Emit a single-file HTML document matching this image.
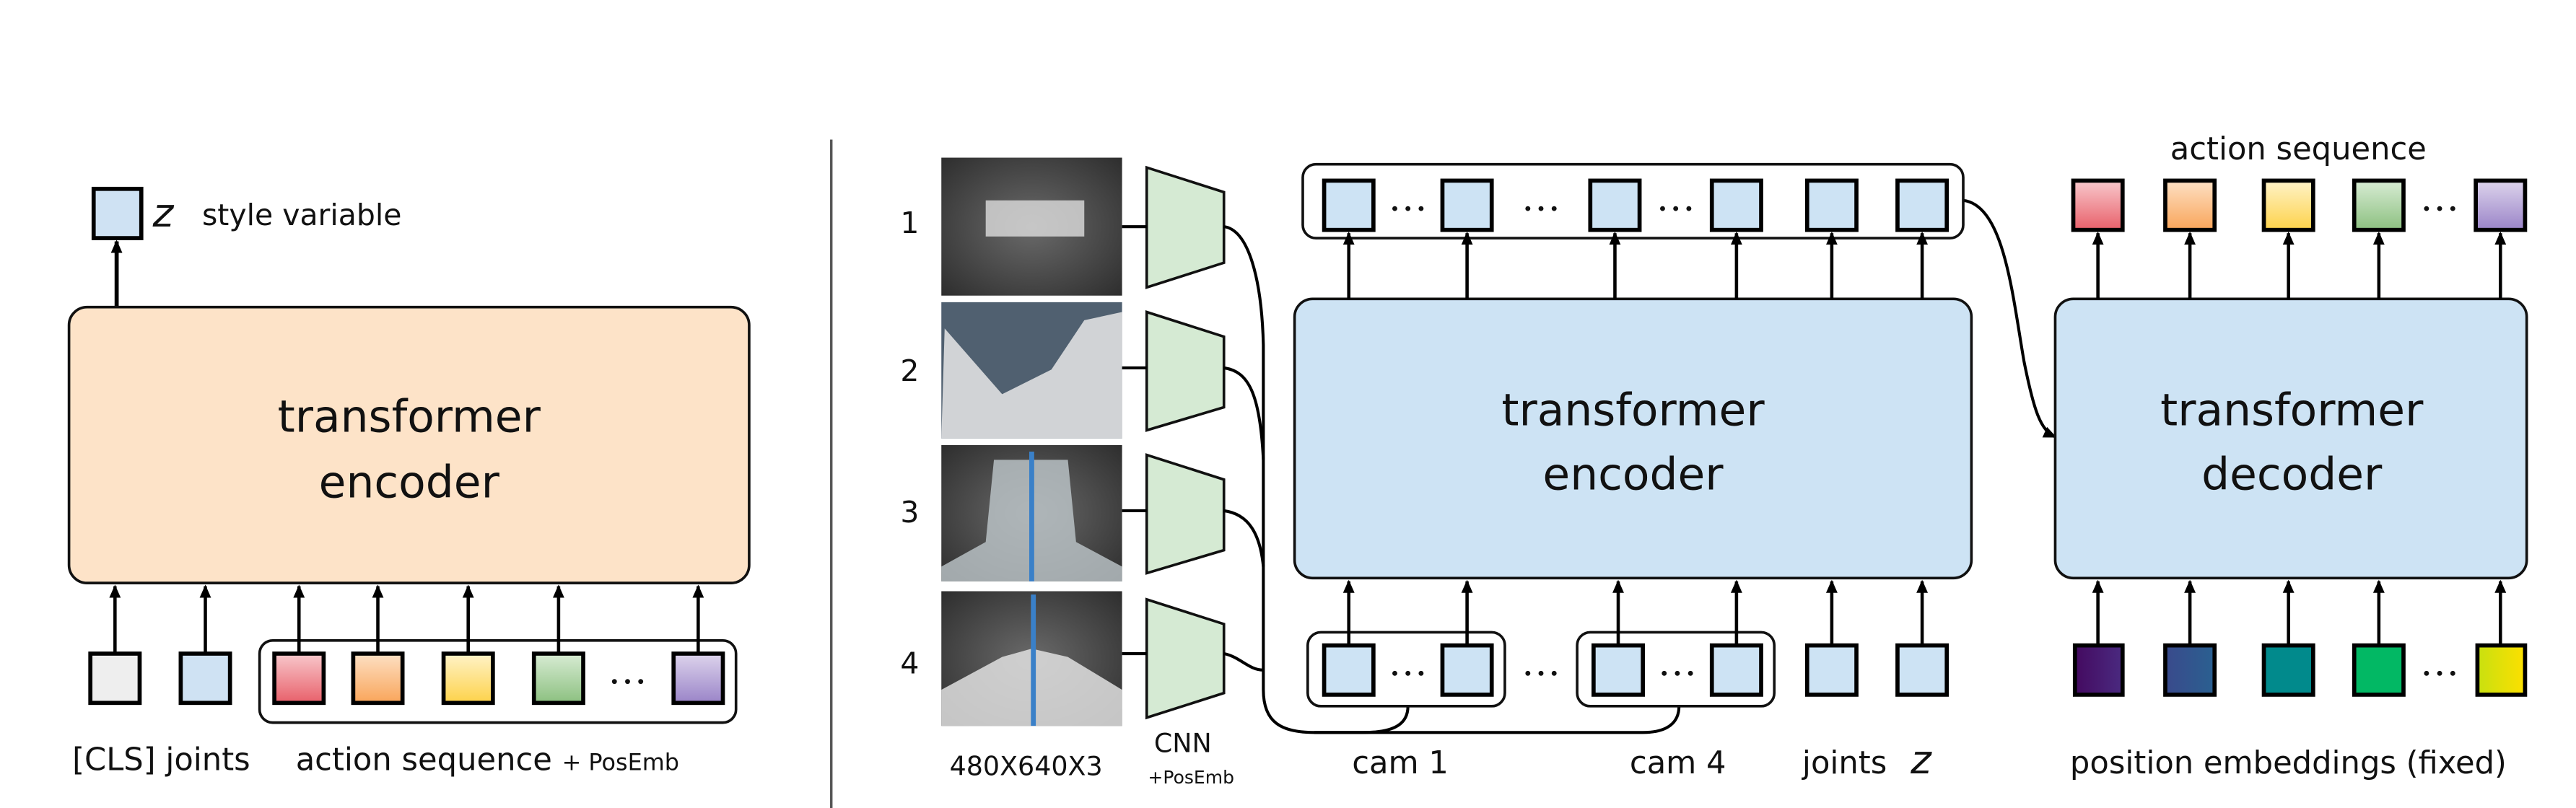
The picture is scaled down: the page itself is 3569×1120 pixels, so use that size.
<!DOCTYPE html>
<html><head><meta charset="utf-8"><style>html,body{margin:0;padding:0;background:#fff}svg{display:block}text{font-family:"DejaVu Sans","Liberation Sans",sans-serif;fill:#111}</style></head>
<body>
<svg width="3569" height="1120" viewBox="0 0 1568 492" preserveAspectRatio="none" xmlns="http://www.w3.org/2000/svg">
<defs>
<marker id="a" markerWidth="8" markerHeight="8" refX="7" refY="4" orient="auto" markerUnits="userSpaceOnUse"><path d="M0,0.5 L8,4 L0,7.5 Z" fill="#000"/></marker>
<linearGradient id="gr" x1="0" y1="0" x2="0" y2="1"><stop offset="0" stop-color="#f8c8cc"/><stop offset="1" stop-color="#e8606a"/></linearGradient>
<linearGradient id="go" x1="0" y1="0" x2="0" y2="1"><stop offset="0" stop-color="#fde0c4"/><stop offset="1" stop-color="#f9a55a"/></linearGradient>
<linearGradient id="gy" x1="0" y1="0" x2="0" y2="1"><stop offset="0" stop-color="#fff3c8"/><stop offset="1" stop-color="#fdd24a"/></linearGradient>
<linearGradient id="gg" x1="0" y1="0" x2="0" y2="1"><stop offset="0" stop-color="#d8ecd4"/><stop offset="1" stop-color="#8cc080"/></linearGradient>
<linearGradient id="gp" x1="0" y1="0" x2="0" y2="1"><stop offset="0" stop-color="#ddd4ec"/><stop offset="1" stop-color="#9a84c8"/></linearGradient>
<linearGradient id="p1" x1="0" y1="0" x2="1" y2="0"><stop offset="0" stop-color="#440a60"/><stop offset="1" stop-color="#4a2a80"/></linearGradient>
<linearGradient id="p2" x1="0" y1="0" x2="1" y2="0"><stop offset="0" stop-color="#3a4a8c"/><stop offset="1" stop-color="#2a6090"/></linearGradient>
<linearGradient id="p5" x1="0" y1="0" x2="1" y2="0"><stop offset="0" stop-color="#c8e010"/><stop offset="1" stop-color="#fde000"/></linearGradient>
<radialGradient id="img" cx="0.5" cy="0.5" r="0.7"><stop offset="0" stop-color="#6a6a6a"/><stop offset="1" stop-color="#2e2e2e"/></radialGradient>
<g id="d"><circle cx="-8" cy="0" r="1.5" fill="#111"/><circle cx="0" cy="0" r="1.5" fill="#111"/><circle cx="8" cy="0" r="1.5" fill="#111"/></g>
</defs>

<line x1="506" y1="85" x2="506" y2="492" stroke="#555" stroke-width="1.5"/>

<!-- LEFT PANEL -->
<rect x="57" y="115" width="29" height="30" fill="#cfe2f3" stroke="#000" stroke-width="2.5"/>
<line x1="71" y1="187" x2="71" y2="147" stroke="#000" stroke-width="2.5" marker-end="url(#a)"/>
<text x="93" y="138" font-family="Liberation Serif,serif" font-style="italic" font-size="24">z</text>
<text x="123" y="137" font-size="18">style variable</text>
<rect x="42" y="187" width="414" height="168" rx="11" fill="#fde3c8" stroke="#111" stroke-width="1.6"/>
<text x="249" y="263" font-size="27" text-anchor="middle">transformer</text>
<text x="249" y="303" font-size="27" text-anchor="middle">encoder</text>
<rect x="158" y="390" width="290" height="50" rx="8" fill="none" stroke="#111" stroke-width="1.6"/>
<g stroke="#000" stroke-width="2.5">
<rect x="55" y="398" width="30" height="30" fill="#eeeeee"/>
<rect x="110" y="398" width="30" height="30" fill="#cfe2f3"/>
<rect x="167" y="398" width="30" height="30" fill="url(#gr)"/>
<rect x="215" y="398" width="30" height="30" fill="url(#go)"/>
<rect x="270" y="398" width="30" height="30" fill="url(#gy)"/>
<rect x="325" y="398" width="30" height="30" fill="url(#gg)"/>
<rect x="410" y="398" width="30" height="30" fill="url(#gp)"/>
</g>
<g stroke="#000" stroke-width="2" marker-end="url(#a)">
<line x1="70" y1="398" x2="70" y2="357"/><line x1="125" y1="398" x2="125" y2="357"/>
<line x1="182" y1="398" x2="182" y2="357"/><line x1="230" y1="398" x2="230" y2="357"/>
<line x1="285" y1="398" x2="285" y2="357"/><line x1="340" y1="398" x2="340" y2="357"/>
<line x1="425" y1="398" x2="425" y2="357"/>
</g>
<use href="#d" x="382" y="415"/>
<text x="44" y="469" font-size="19">[CLS] joints</text>
<text x="180" y="469" font-size="19">action sequence <tspan font-size="14">+ PosEmb</tspan></text>

<!-- RIGHT PANEL: images -->
<text x="548" y="142" font-size="18">1</text>
<text x="548" y="232" font-size="18">2</text>
<text x="548" y="318" font-size="18">3</text>
<text x="548" y="410" font-size="18">4</text>
<rect x="573" y="96" width="110" height="84" fill="url(#img)"/>
<rect x="600" y="122" width="60" height="22" fill="#ddd" opacity="0.8"/>
<rect x="573" y="184" width="110" height="83" fill="#506070"/>
<path d="M575,200 L610,240 L640,225 L660,195 L683,190 L683,267 L573,267 Z" fill="#e8e8e8" opacity="0.85"/>
<rect x="573" y="271" width="110" height="83" fill="url(#img)"/>
<path d="M605,280 L650,280 L655,330 L683,345 L683,354 L573,354 L573,345 L600,330 Z" fill="#bfc8cc" opacity="0.8"/>
<line x1="628" y1="275" x2="628" y2="354" stroke="#3a80c8" stroke-width="3"/>
<rect x="573" y="360" width="110" height="82" fill="url(#img)"/>
<path d="M573,420 L610,400 L628,395 L650,400 L683,420 L683,442 L573,442 Z" fill="#e0e0e0" opacity="0.85"/>
<line x1="629" y1="362" x2="629" y2="442" stroke="#3a80c8" stroke-width="3"/>

<g fill="#d5ead3" stroke="#111" stroke-width="1.6">
<path d="M698,102 L745,117 L745,160 L698,175 Z"/>
<path d="M698,190 L745,205 L745,248 L698,262 Z"/>
<path d="M698,277 L745,292 L745,335 L698,349 Z"/>
<path d="M698,365 L745,380 L745,422 L698,437 Z"/>
</g>
<g stroke="#000" stroke-width="1.8" fill="none">
<line x1="683" y1="138" x2="698" y2="138"/><line x1="683" y1="224" x2="698" y2="224"/>
<line x1="683" y1="311" x2="698" y2="311"/><line x1="683" y1="398" x2="698" y2="398"/>
<path d="M745,138 C760,140 768,170 769,210 L769,420 C769,440 780,446 800,446 L1000,446 C1015,446 1022,440 1022,430"/>
<path d="M745,224 C760,226 767,240 769,280"/>
<path d="M745,311 C760,313 767,325 769,345"/>
<path d="M745,398 C755,400 760,408 769,408"/>
<path d="M800,446 L830,446 C850,446 857,440 857,430"/>
<path d="M1195,122 C1220,125 1225,180 1232,220 C1238,250 1242,262 1251,266" marker-end="url(#a)"/>
</g>

<rect x="793" y="100" width="402" height="45" rx="8" fill="none" stroke="#111" stroke-width="1.6"/>
<rect x="788" y="182" width="412" height="170" rx="11" fill="#cde3f4" stroke="#111" stroke-width="1.6"/>
<text x="994" y="259" font-size="27" text-anchor="middle">transformer</text>
<text x="994" y="298" font-size="27" text-anchor="middle">encoder</text>
<rect x="796" y="385" width="120" height="45" rx="8" fill="none" stroke="#111" stroke-width="1.6"/>
<rect x="960" y="385" width="120" height="45" rx="8" fill="none" stroke="#111" stroke-width="1.6"/>
<g stroke="#000" stroke-width="2.5" fill="#cde3f4">
<rect x="806" y="110" width="30" height="30"/><rect x="878" y="110" width="30" height="30"/>
<rect x="968" y="110" width="30" height="30"/><rect x="1042" y="110" width="30" height="30"/>
<rect x="1100" y="110" width="30" height="30"/><rect x="1155" y="110" width="30" height="30"/>
<rect x="806" y="393" width="30" height="30"/><rect x="878" y="393" width="30" height="30"/>
<rect x="970" y="393" width="30" height="30"/><rect x="1042" y="393" width="30" height="30"/>
<rect x="1100" y="393" width="30" height="30"/><rect x="1155" y="393" width="30" height="30"/>
</g>
<g stroke="#000" stroke-width="2" marker-end="url(#a)">
<line x1="821" y1="182" x2="821" y2="142"/><line x1="893" y1="182" x2="893" y2="142"/>
<line x1="983" y1="182" x2="983" y2="142"/><line x1="1057" y1="182" x2="1057" y2="142"/>
<line x1="1115" y1="182" x2="1115" y2="142"/><line x1="1170" y1="182" x2="1170" y2="142"/>
<line x1="821" y1="393" x2="821" y2="354"/><line x1="893" y1="393" x2="893" y2="354"/>
<line x1="985" y1="393" x2="985" y2="354"/><line x1="1057" y1="393" x2="1057" y2="354"/>
<line x1="1115" y1="393" x2="1115" y2="354"/><line x1="1170" y1="393" x2="1170" y2="354"/>
</g>
<use href="#d" x="857" y="127"/><use href="#d" x="938" y="127"/><use href="#d" x="1020" y="127"/>
<use href="#d" x="857" y="410"/><use href="#d" x="938" y="410"/><use href="#d" x="1021" y="410"/>
<text x="578" y="472" font-size="16">480X640X3</text>
<text x="720" y="458" font-size="16" text-anchor="middle">CNN</text>
<text x="725" y="477" font-size="11" text-anchor="middle">+PosEmb</text>
<text x="823" y="471" font-size="19">cam 1</text>
<text x="992" y="471" font-size="19">cam 4</text>
<text x="1097" y="471" font-size="19">joints</text>
<text x="1163" y="471" font-family="Liberation Serif,serif" font-style="italic" font-size="24">z</text>

<text x="1399" y="97" font-size="19" text-anchor="middle">action sequence</text>
<rect x="1251" y="182" width="287" height="170" rx="11" fill="#cde3f4" stroke="#111" stroke-width="1.6"/>
<text x="1395" y="259" font-size="27" text-anchor="middle">transformer</text>
<text x="1395" y="298" font-size="27" text-anchor="middle">decoder</text>
<g stroke="#000" stroke-width="2.5">
<rect x="1262" y="110" width="30" height="30" fill="url(#gr)"/>
<rect x="1318" y="110" width="30" height="30" fill="url(#go)"/>
<rect x="1378" y="110" width="30" height="30" fill="url(#gy)"/>
<rect x="1433" y="110" width="30" height="30" fill="url(#gg)"/>
<rect x="1507" y="110" width="30" height="30" fill="url(#gp)"/>
<rect x="1263" y="393" width="29" height="30" fill="url(#p1)"/>
<rect x="1318" y="393" width="30" height="30" fill="url(#p2)"/>
<rect x="1378" y="393" width="30" height="30" fill="#018a8c"/>
<rect x="1433" y="393" width="30" height="30" fill="#02b864"/>
<rect x="1508" y="393" width="29" height="30" fill="url(#p5)"/>
</g>
<g stroke="#000" stroke-width="2" marker-end="url(#a)">
<line x1="1277" y1="182" x2="1277" y2="142"/><line x1="1333" y1="182" x2="1333" y2="142"/>
<line x1="1393" y1="182" x2="1393" y2="142"/><line x1="1448" y1="182" x2="1448" y2="142"/>
<line x1="1522" y1="182" x2="1522" y2="142"/>
<line x1="1277" y1="393" x2="1277" y2="354"/><line x1="1333" y1="393" x2="1333" y2="354"/>
<line x1="1393" y1="393" x2="1393" y2="354"/><line x1="1448" y1="393" x2="1448" y2="354"/>
<line x1="1522" y1="393" x2="1522" y2="354"/>
</g>
<use href="#d" x="1485" y="127"/><use href="#d" x="1485" y="410"/>
<text x="1260" y="471" font-size="19">position embeddings (fixed)</text>
</svg>
</body></html>
